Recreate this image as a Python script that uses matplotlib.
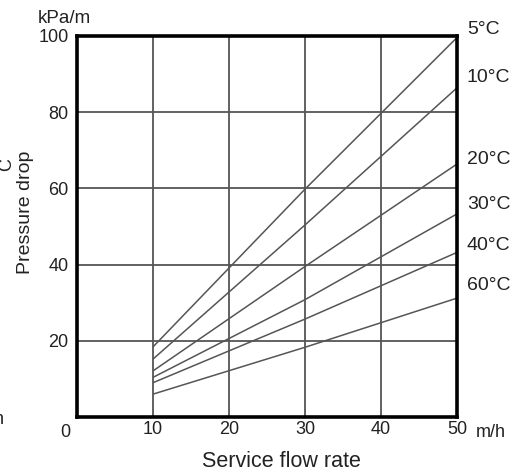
import matplotlib
matplotlib.use("Agg")
import matplotlib.pyplot as plt
import numpy as np

plt.rcParams['font.family'] = ['Liberation Sans', 'DejaVu Sans']

# service flow rate (m/h) where each curve was read
flow = [10, 30, 50]
# pressure drop (kPa/m) per water temperature
dp_5 = [18.4, 59.8, 99.6]
dp_10 = [15.2, 50.4, 86.4]
dp_20 = [12.1, 39.5, 66.4]
dp_30 = [10.4, 30.8, 53.3]
dp_40 = [9.0, 25.7, 43.2]
dp_60 = [6.0, 18.3, 31.2]

temps = ["5°C", "10°C", "20°C", "30°C", "40°C", "60°C"]
series = [dp_5, dp_10, dp_20, dp_30, dp_40, dp_60]
label_y = [101.8, 89.0, 67.7, 55.9, 45.1, 34.4]

xticks = [10, 20, 30, 40, 50]
yticks = [20, 40, 60, 80, 100]

W, H = 527, 473
fig = plt.figure(figsize=(W / 100, H / 100), dpi=100)
ax = fig.add_axes([77 / W, 1 - 417 / H, 380 / W, 381 / H])

for yv in series:
    ax.plot(flow, yv, color="#555555", lw=1.1, solid_capstyle="butt")

ax.set_xlim(0, 50)
ax.set_ylim(0, 100)
ax.set_xticks(xticks)
ax.set_yticks(yticks)
ax.grid(True, color="#555555", lw=1.3)
ax.set_axisbelow(True)
for s in ax.spines.values():
    s.set_linewidth(2.6)
    s.set_color("black")
ax.tick_params(axis="y", length=0, labelsize=13, pad=6, colors="#222222")
ax.tick_params(axis="x", length=0, labelsize=13, pad=3, colors="#222222")

ax.text(-1.6, -1.8, "0", ha="center", va="top", fontsize=13, color="#222222")
ax.text(52.5, -1.8, "m/h", ha="left", va="top", fontsize=13, color="#222222")
ax.text(-5.1, 104.5, "kPa/m", ha="left", va="center", fontsize=13.5, color="#222222",
        clip_on=False)

for t, ly in zip(temps, label_y):
    ax.text(51.3, ly, t, ha="left", va="center", fontsize=14, color="#222222",
            clip_on=False)

fig.text(281 / W, 1 - 461 / H, "Service flow rate", ha="center", va="center",
         fontsize=15.5, color="#222222")
fig.text(25 / W, 1 - 212.5 / H, "Pressure drop", rotation=90, ha="center",
         va="center", fontsize=14, color="#222222")

# fragments of neighbouring text cut by the crop
fig.text(-0.004, 1 - 165 / H, "C", rotation=90, fontsize=13, color="#222222",
         ha="left", va="center")
fig.text(-0.012, 1 - 420 / H, "n", fontsize=13, color="#222222", ha="left", va="center")

fig.savefig("out.png", dpi=100)
